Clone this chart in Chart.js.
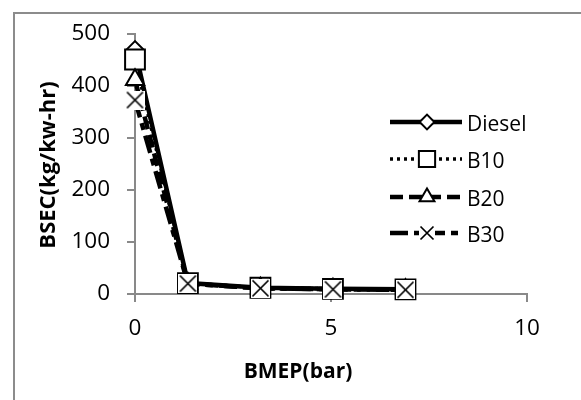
<!DOCTYPE html>
<html>
<head>
<meta charset="utf-8">
<script src="https://cdn.jsdelivr.net/npm/chart.js@4.4.1/dist/chart.umd.min.js"></script>
<style>
  html, body { margin: 0; padding: 0; background: #fff; }
  canvas { display: block; }
</style>
</head>
<body>
<canvas id="bsecChart" width="581" height="400"></canvas>
<script>
// values
const bmep = [0, 1.35, 3.2, 5.05, 6.9];
const dieselBsec = [469, 21, 12, 10, 9];
const b10Bsec = [451, 21, 12, 10, 9];
const b20Bsec = [412, 20, 11, 9, 8];
const b30Bsec = [373, 20, 11, 9, 8];
const seriesNames = ['Diesel', 'B10', 'B20', 'B30'];
const yTicks = [0, 100, 200, 300, 400, 500];
const xTicks = [0, 5, 10];

const axisGray = '#898989';
const fontFamily = "'Open Sans', sans-serif";

// Excel style X marker: white filled box with a cross in it
function boxedCross(size) {
    const c = document.createElement('canvas');
    c.width = size; c.height = size;
    const g = c.getContext('2d');
    g.fillStyle = '#fff';
    g.fillRect(0, 0, size, size);
    g.strokeStyle = '#000';
    g.lineWidth = 1.7;
    g.beginPath();
    g.moveTo(1.5, 1.5); g.lineTo(size - 1.5, size - 1.5);
    g.moveTo(size - 1.5, 1.5); g.lineTo(1.5, size - 1.5);
    g.stroke();
    return c;
}
const crossMarker = boxedCross(19);
const crossMarkerSmall = boxedCross(16);

function toPoints(ys) {
    return ys.map((y, i) => ({ x: bmep[i], y: y }));
}

function makeSet(label, values, dash, width, style, radius, order) {
    return {
        label: label,
        data: toPoints(values),
        borderColor: '#000',
        borderWidth: width,
        borderDash: dash,
        tension: 0,
        pointStyle: style,
        pointRadius: radius,
        pointHoverRadius: radius,
        pointBackgroundColor: '#fff',
        pointBorderColor: '#000',
        pointBorderWidth: 2,
        clip: false,
        order: order
    };
}

const frameAndTitles = {
    id: 'frameAndTitles',
    beforeDraw(chart) {
        const ctx = chart.ctx;
        ctx.save();
        ctx.fillStyle = '#fff';
        ctx.fillRect(0, 0, chart.width, chart.height);
        ctx.strokeStyle = '#8c8c8c';
        ctx.lineWidth = 2;
        ctx.beginPath();
        ctx.moveTo(14, chart.height);
        ctx.lineTo(14, 13);
        ctx.lineTo(chart.width, 13);
        ctx.stroke();
        ctx.restore();
    },
    afterDraw(chart) {
        const ctx = chart.ctx;
        ctx.save();
        ctx.fillStyle = '#000';
        ctx.font = 'bold 21px ' + fontFamily;
        ctx.textAlign = 'center';
        ctx.textBaseline = 'alphabetic';
        ctx.fillText('BMEP(bar)', 298, 378);
        ctx.translate(55, 165);
        ctx.rotate(-Math.PI / 2);
        ctx.font = 'bold 22px ' + fontFamily;
        ctx.fillText('BSEC(kg/kw-hr)', 0, 0);
        ctx.restore();

        // legend: line sample with marker, then the name
        const rows = [122, 159, 197, 233];
        const x0 = 390, x1 = 462, xm = 427;
        chart.data.datasets.forEach((ds, i) => {
            const y = rows[i];
            ctx.save();
            ctx.strokeStyle = '#000';
            ctx.lineWidth = ds.borderWidth;
            ctx.setLineDash(ds.borderDash || []);
            ctx.beginPath();
            ctx.moveTo(x0, y);
            ctx.lineTo(x1, y);
            ctx.stroke();
            ctx.setLineDash([]);
            ctx.fillStyle = '#fff';
            ctx.lineWidth = 2;
            let style = ds.pointStyle;
            if (style === crossMarker) style = crossMarkerSmall;
            Chart.helpers.drawPoint(ctx, {
                pointStyle: style, radius: ds.pointRadius * 0.82, rotation: 0, borderWidth: 2
            }, xm, y);
            ctx.fillStyle = '#000';
            ctx.font = '21px ' + fontFamily;
            ctx.textAlign = 'left';
            ctx.textBaseline = 'alphabetic';
            ctx.fillText(ds.label, 467, y + 9);
            ctx.restore();
        });
    }
};

new Chart(document.getElementById('bsecChart').getContext('2d'), {
    type: 'line',
    data: {
        datasets: [
            makeSet(seriesNames[0], dieselBsec, [], 4.5, 'rectRot', 9, 4),
            makeSet(seriesNames[1], b10Bsec, [3, 4], 3.5, 'rect', 14, 3),
            makeSet(seriesNames[2], b20Bsec, [13, 6], 4.5, 'triangle', 10.5, 2),
            makeSet(seriesNames[3], b30Bsec, [18, 6, 7, 6], 4.5, crossMarker, 10, 1)
        ]
    },
    options: {
        responsive: false,
        animation: false,
        events: [],
        layout: { padding: { top: 34, right: 54, bottom: 0, left: 0 } },
        plugins: { legend: { display: false }, tooltip: { enabled: false } },
        scales: {
            x: {
                type: 'linear', min: 0, max: 10,
                afterFit: s => { s.height = 106; },
                afterBuildTicks: s => { s.ticks = xTicks.map(v => ({ value: v })); },
                grid: { drawOnChartArea: false, drawTicks: true, tickLength: 8, color: axisGray, lineWidth: 2 },
                border: { color: axisGray, width: 2 },
                ticks: { color: '#000', padding: 13, font: { family: fontFamily, size: 22.5 }, maxRotation: 0 }
            },
            y: {
                type: 'linear', min: 0, max: 500,
                afterFit: s => { s.width = 135; },
                afterBuildTicks: s => { s.ticks = yTicks.map(v => ({ value: v })); },
                grid: { drawOnChartArea: false, drawTicks: true, tickLength: 8, color: axisGray, lineWidth: 2 },
                border: { color: axisGray, width: 2 },
                ticks: { color: '#000', padding: 17, font: { family: fontFamily, size: 22.5 } }
            }
        }
    },
    plugins: [frameAndTitles]
});
</script>
</body>
</html>
